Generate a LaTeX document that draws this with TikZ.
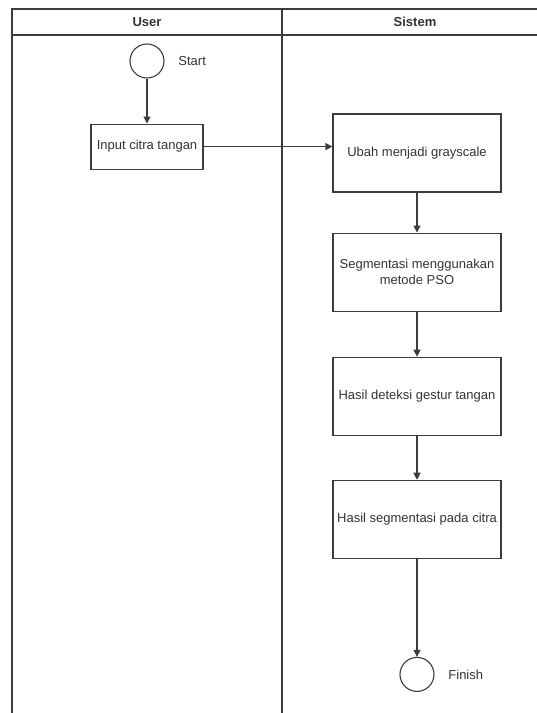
\documentclass[tikz,border=0pt]{standalone}
\usepackage{fontspec}
\setmainfont{Liberation Sans}
\usepackage{xcolor}
\usepackage{tikz}
\usetikzlibrary{positioning,arrows.meta}
\definecolor{linegray}{HTML}{3C3C3C}
\definecolor{textgray}{HTML}{333333}

\begin{document}
\begin{tikzpicture}[x=1pt, y=1pt, line width=1.1pt, color=linegray, text=textgray,
  font=\fontsize{13}{16}\selectfont, >={Triangle[length=7pt,width=7pt]},
  box/.style={draw, inner sep=0pt, align=center, minimum width=168pt, minimum height=78pt},
  terminal/.style={circle, draw, minimum size=34pt, inner sep=0pt},
  lane/.style={font=\fontsize{13}{16}\selectfont\bfseries}]
\useasboundingbox (0,0) rectangle (537,713);
\draw (12,0) -- (12,704) -- (537,704);
\draw (12,678) -- (537,678);
\draw (282,0) -- (282,704);
\node[lane] (user) at (147,691) {User};
\node[lane] (sistem) at (415,691) {Sistem};
\node[terminal] (start) at (147,652) {};
\node[right=10pt of start] (startlabel) {Start};
\node[box, minimum width=112pt, minimum height=45pt, below=45pt of start] (input) {Input citra tangan};
\node[box] (ubah) at (417,560) {Ubah menjadi grayscale};
\node[box, below=40pt of ubah] (seg) {Segmentasi menggunakan\\metode PSO};
\node[box, below=45pt of seg] (deteksi) {Hasil deteksi gestur tangan};
\node[box, below=44pt of deteksi] (segcitra) {Hasil segmentasi pada citra};
\node[terminal, below=98pt of segcitra] (finish) {};
\node[right=10pt of finish] (finishlabel) {Finish};
\draw[->] (start) -- (input);
\draw[->] (input) -- (input -| ubah.west);
\draw[->] (ubah) -- (seg);
\draw[->] (seg) -- (deteksi);
\draw[->] (deteksi) -- (segcitra);
\draw[->] (segcitra) -- (finish);
\end{tikzpicture}
\end{document}
